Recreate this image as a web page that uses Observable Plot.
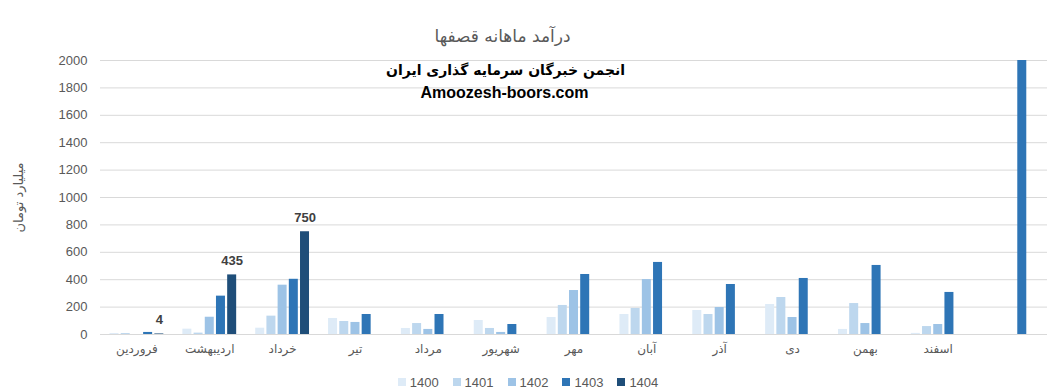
<!DOCTYPE html>
<html><head><meta charset="utf-8">
<script src="https://cdn.jsdelivr.net/npm/d3@7"></script>
<script src="https://cdn.jsdelivr.net/npm/@observablehq/plot@0.6"></script>
<style>
body{margin:0;background:#fff;}
#chart svg{display:block;}
#legend{display:flex;justify-content:center;align-items:center;height:20px;font-family:"Liberation Sans",Arial,sans-serif;font-size:13px;color:#595959;padding-left:0px;}
.item{display:flex;align-items:center;margin:0 7px;}
.sw{width:8px;height:8px;margin-right:4px;}
</style></head><body><div id="chart"></div><div id="legend"></div><script>
const months = ["فروردین","اردیبهشت","خرداد","تیر","مرداد","شهریور","مهر","آبان","آذر","دی","بهمن","اسفند",""];
const years = ["1400","1401","1402","1403","1404"];
const colors = ["#DEEBF7","#BDD7EE","#9DC3E6","#2E75B6","#1F4E79"];
const v1400 = [7,39,46,117,44,102,124,146,175,219,37,8,null];
const v1401 = [7,10,134,95,80,44,212,190,146,270,226,58,null];
const v1402 = [0,126,360,88,37,15,321,401,197,124,80,73,null];
const v1403 = [15,280,403,146,146,73,438,526,365,409,504,307,2000];
const v1404 = [4,435,750,null,null,null,null,null,null,null,null,null,null];
const yTicks = [0,200,400,600,800,1000,1200,1400,1600,1800,2000];
const title = "درآمد ماهانه قصفها";
const subtitle1 = "انجمن خبرگان سرمایه گذاری ایران";
const subtitle2 = "Amoozesh-boors.com";
const yLabel = "میلیارد تومان";

const series = [v1400,v1401,v1402,v1403,v1404];
const rows = [];
series.forEach((vals, i) => vals.forEach((v, j) => { if (v != null) rows.push({month: months[j], year: years[i], value: v}); }));
const labelRows = rows.filter(d => d.year === "1404");

const W = 1056, H = 372, mL = 100, mR = 9, mT = 60, mB = 38;
const bw = (W - mL - mR) / months.length;
const pitch = 11.2, barW = 9;
const span = (years.length - 1) * pitch + barW;
const offL = i => (bw - span) / 2 + i * pitch;
const center = i => offL(i) + barW / 2 - bw / 2;

const persian = "DejaVu Sans, sans-serif";
const marks = [
  Plot.ruleY(yTicks, {stroke: "#d9d9d9", strokeWidth: 1}),
  ...years.map((yr, i) => Plot.barY(rows.filter(d => d.year === yr), {
    x: "month", y: "value", fill: colors[i],
    insetLeft: offL(i), insetRight: bw - offL(i) - barW
  })),
  Plot.text(labelRows, {x: "month", y: "value", text: d => String(d.value), dx: center(4), dy: -10,
    lineAnchor: "bottom", fontWeight: "bold", fontSize: 13, fill: "#404040", fontFamily: "Liberation Sans, Arial, sans-serif"}),
  Plot.axisY({ticks: yTicks, tickFormat: d => String(d), tickSize: 0, tickPadding: 13, label: null, fontSize: 13, color: "#595959", fontFamily: "Liberation Sans, Arial, sans-serif"}),
  Plot.axisX({tickSize: 0, tickPadding: 10, label: null, fontSize: 12, color: "#595959", fontFamily: persian}),
  Plot.text([title], {frameAnchor: "top-left", dx: 402, dy: -24, text: d => d, textAnchor: "middle", lineAnchor: "middle", fontSize: 17, fill: "#595959", fontFamily: persian}),
  Plot.text([subtitle1], {frameAnchor: "top-left", dx: 405, dy: 10, text: d => d, textAnchor: "middle", lineAnchor: "middle", fontSize: 14, fontWeight: "bold", fill: "#000", fontFamily: persian}),
  Plot.text([subtitle2], {frameAnchor: "top-left", dx: 404, dy: 32, text: d => d, textAnchor: "middle", lineAnchor: "middle", fontSize: 16, fontWeight: "bold", fill: "#000", fontFamily: "Liberation Sans, Arial, sans-serif"}),
  Plot.text([yLabel], {frameAnchor: "left", dx: -82, rotate: -90, text: d => d, textAnchor: "middle", lineAnchor: "middle", fontSize: 13, fill: "#595959", fontFamily: persian})
];

const chart = Plot.plot({
  width: W, height: H,
  marginLeft: mL, marginRight: mR, marginTop: mT, marginBottom: mB,
  x: {type: "band", domain: months, padding: 0, round: false},
  y: {domain: [0, 2000], clamp: true},
  style: {background: "#fff"},
  marks
});
document.getElementById("chart").appendChild(chart);

const lg = document.getElementById("legend");
years.forEach((yr, i) => {
  const it = document.createElement("div"); it.className = "item";
  const sw = document.createElement("div"); sw.className = "sw"; sw.style.background = colors[i];
  const tx = document.createElement("span"); tx.textContent = yr;
  it.appendChild(sw); it.appendChild(tx); lg.appendChild(it);
});
</script></body></html>
